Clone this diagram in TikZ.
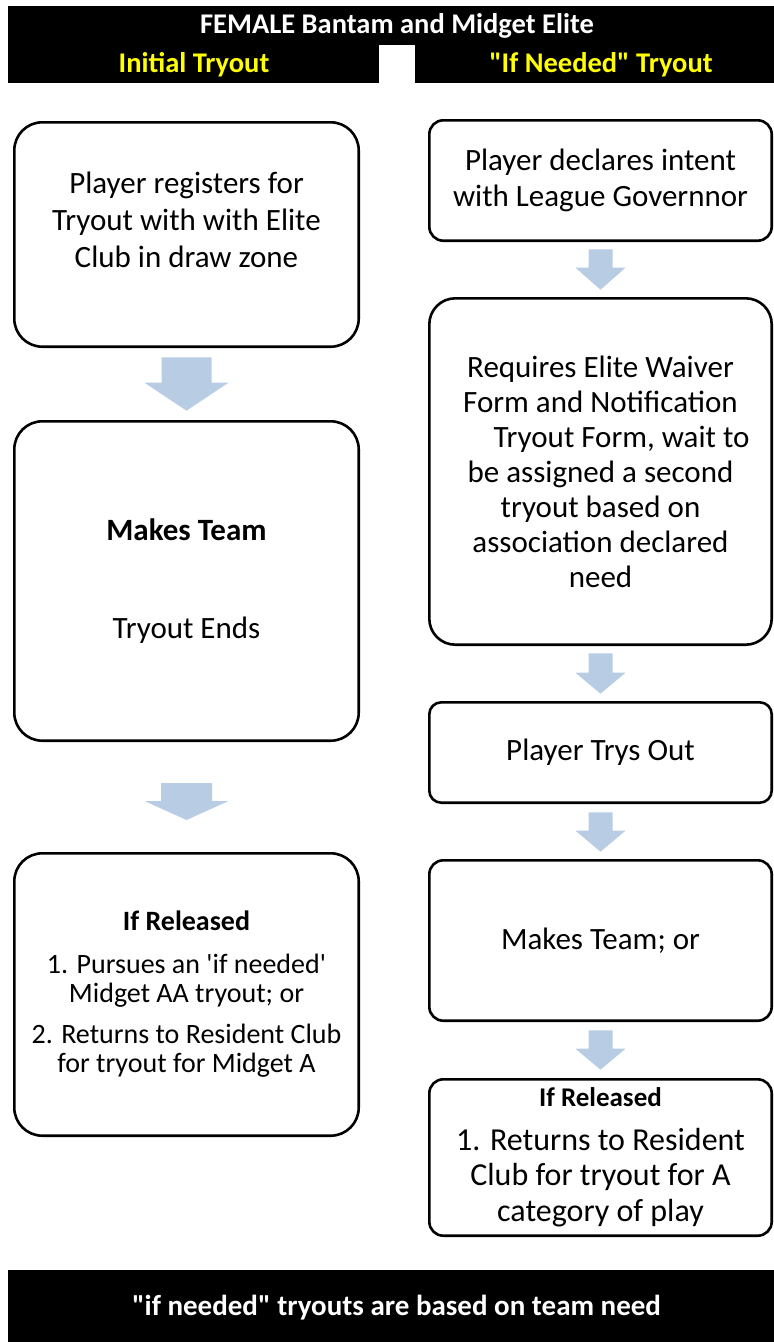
\documentclass[tikz,border=0pt]{standalone}
\usepackage{fontspec}
\setmainfont{Carlito}[Ligatures=TeXOff]
\usetikzlibrary{calc}
\definecolor{arrowfill}{HTML}{B8CCE4}
\definecolor{hdryellow}{HTML}{FFFF00}
\newcommand\blockarrow[5]{%
  \fill[arrowfill] let \p1=#1, \p2=#2 in
    ({\x1-#3pt},{\y1}) -- ({\x1+#3pt},{\y1}) -- ({\x1+#3pt},{\y2+#5pt}) -- ({\x1+#4pt},{\y2+#5pt})
    -- ({\x1},{\y2}) -- ({\x1-#4pt},{\y2+#5pt}) -- ({\x1-#3pt},{\y2+#5pt}) -- cycle;}
\begin{document}
\begin{tikzpicture}[x=1pt,y=-1pt,
  box/.style={draw=black, line width=2.6pt, rounded corners=#1, inner sep=0pt, align=center,
    font=\fontsize{31}{35.5}\selectfont},
  box/.default=14pt,
  lbox/.style={box=28pt, minimum width=344.4pt},
  rbox/.style={box=#1, minimum width=342.4pt},
  rbox/.default=14pt,
  bar/.style={fill=black, inner sep=0pt, anchor=north west},
  hdrtext/.style={inner sep=0pt, font=\fontsize{28.5}{30}\selectfont\bfseries},
  plaintext/.style={inner sep=0pt, align=center, font=\fontsize{31}{37}\selectfont}]
\useasboundingbox (0,0) rectangle (774,1342);
\fill[white] (0,0) rectangle (774,1342);

% header
\node[bar, minimum width=766pt, minimum height=39pt] (hdrtop) at (8,6) {};
\node[bar, minimum width=371pt, minimum height=38pt] (hdrleft) at (8,45) {};
\node[bar, minimum width=359pt, minimum height=38pt] (hdrright) at (415,45) {};
\node[hdrtext, text=white] (title) at (397,26) {FEMALE Bantam and Midget Elite};
\node[hdrtext, text=hdryellow] (initial) at (194,65) {Initial Tryout};
\node[hdrtext, text=hdryellow] (ifneeded) at (601,65) {"If Needed" Tryout};

% left column
\node[lbox, minimum height=224.4pt] (L1) at (186.5,234.5) {};
\node[plaintext] (L1t) at (186.5,220) {Player registers for\\Tryout with with Elite\\Club in draw zone};
\node[lbox, minimum height=319.4pt] (L2) at (186.5,581) {\textbf{Makes Team}\\[62pt]Tryout Ends};
\node[lbox, minimum height=282.4pt, font=\fontsize{28}{29}\selectfont] (L3) at (186.5,994.5)
  {\textbf{If Released}\\[14pt]1. Pursues an 'if needed'\\Midget AA tryout; or\\[12pt]2. Returns to Resident Club\\for tryout for Midget A};

% right column
\node[rbox, minimum height=120.4pt] (R1) at (600.5,180.5) {Player declares intent\\with League Governnor};
\node[rbox=26pt, minimum height=346.4pt, font=\fontsize{31}{35}\selectfont] (R2) at (600.5,471.5)
  {Requires Elite Waiver\\Form and Notification\\\hspace*{42pt}Tryout Form, wait to\\be assigned a second\\tryout based on\\association declared\\need};
\node[rbox=12pt, minimum height=100.4pt] (R3) at (600.5,752.5) {Player Trys Out};
\node[rbox, minimum height=160.4pt] (R4) at (600.5,940.5) {Makes Team; or};
\node[rbox, minimum height=156.4pt, font=\fontsize{32}{35.5}\selectfont] (R5) at (600.5,1157.5)
  {{\fontsize{27}{30}\selectfont\bfseries If Released}\\[8pt]1. Returns to Resident\\Club for tryout for A\\category of play};

% block arrows
\blockarrow{($(L1.south)+(0,9.3)$)}{($(L2.north)+(0,-9.3)$)}{25}{42}{28}
\blockarrow{($(L2.south)+(0,41)$)}{($(L3.north)+(0,-32)$)}{25.5}{42}{19}
\blockarrow{($(R1.south)+(0,7.3)$)}{($(R2.north)+(0,-7.3)$)}{12}{25}{22}
\blockarrow{($(R2.south)+(0,7.3)$)}{($(R3.north)+(0,-7.3)$)}{12}{25}{21}
\blockarrow{($(R3.south)+(0,8.3)$)}{($(R4.north)+(0,-7.3)$)}{12}{25}{21}
\blockarrow{($(R4.south)+(0,8.3)$)}{($(R5.north)+(0,-8.3)$)}{12}{25}{21}

% footer
\node[bar, minimum width=766pt, minimum height=72pt] (footer) at (8,1270) {};
\node[hdrtext, text=white, font=\fontsize{29}{30}\selectfont\bfseries] (footertext) at (396.5,1308)
  {"if needed" tryouts are based on team need};
\end{tikzpicture}
\end{document}
